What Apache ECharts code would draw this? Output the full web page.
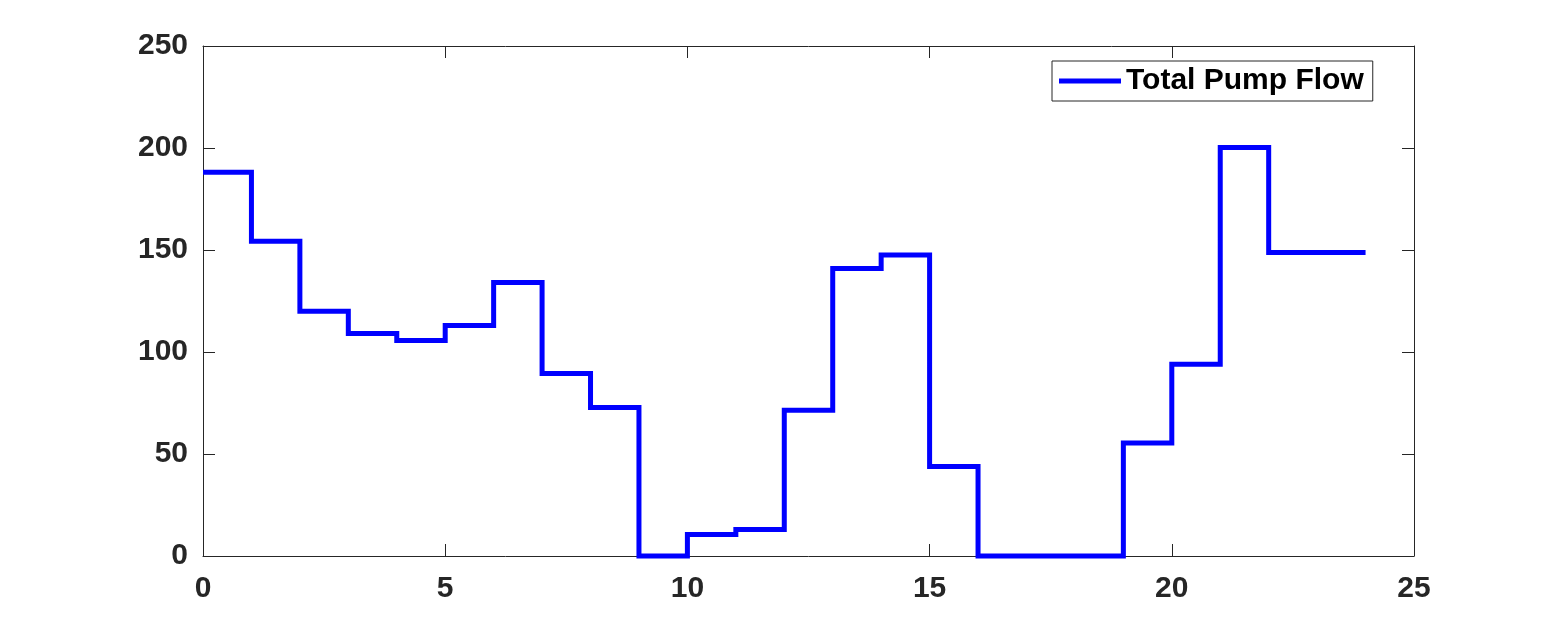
<!DOCTYPE html>
<html>
<head>
<meta charset="utf-8">
<script src="https://cdn.jsdelivr.net/npm/echarts@6/dist/echarts.min.js"></script>
<style>
html,body{margin:0;padding:0;background:#fff;}
#chart{width:1563px;height:625px;}
</style>
</head>
<body>
<div id="chart"></div>
<script>
const hours = [0,1,2,3,4,5,6,7,8,9,10,11,12,13,14,15,16,17,18,19,20,21,22,23,24];
const totalPumpFlow = [188.1,154.3,120.0,109.1,105.6,113.0,134.1,89.4,72.8,0,10.6,13.0,71.4,140.9,147.6,43.9,0,0,0,55.4,94.0,200.2,148.8,148.8,148.8];
const xTicks = {min:0, max:25, interval:5};
const yTicks = {min:0, max:250, interval:50};
const seriesName = 'Total Pump Flow';

const axisColor = '#262626';
const fontFamily = '"Liberation Sans", Arial, sans-serif';
const lineStyle = {color: axisColor, width: 1};

const chart = echarts.init(document.getElementById('chart'), null, {renderer:'canvas'});
const data = hours.map((h,i)=>[h,totalPumpFlow[i]]);

chart.setOption({
  animation:false,
  backgroundColor:'#ffffff',
  grid:{left:203, right:149, top:46, bottom:69, containLabel:false},
  legend:{
    data:[{name:seriesName, icon:'rect'}],
    left:1052, top:61,
    padding:[5,9,5,7],
    itemWidth:62, itemHeight:5, itemGap:0,
    borderColor:axisColor, borderWidth:1, borderRadius:0,
    backgroundColor:'#ffffff',
    textStyle:{fontSize:30, fontWeight:'bold', color:'#000', fontFamily:fontFamily, padding:[0,0,0,0]}
  },
  xAxis:[
    {type:'value', position:'bottom', min:xTicks.min, max:xTicks.max, interval:xTicks.interval,
     axisLine:{show:true, onZero:false, lineStyle}, axisTick:{show:true, inside:true, length:12, lineStyle},
     axisLabel:{show:true, margin:18, fontSize:30, fontWeight:'bold', color:axisColor, fontFamily:fontFamily},
     splitLine:{show:false}},
    {type:'value', position:'top', min:xTicks.min, max:xTicks.max, interval:xTicks.interval,
     axisLine:{show:true, onZero:false, lineStyle}, axisTick:{show:true, inside:true, length:12, lineStyle},
     axisLabel:{show:false}, splitLine:{show:false}}
  ],
  yAxis:[
    {type:'value', position:'left', min:yTicks.min, max:yTicks.max, interval:yTicks.interval,
     axisLine:{show:true, onZero:false, lineStyle}, axisTick:{show:true, inside:true, length:12, lineStyle},
     axisLabel:{show:true, margin:15, fontSize:30, fontWeight:'bold', color:axisColor, fontFamily:fontFamily},
     splitLine:{show:false}},
    {type:'value', position:'right', min:yTicks.min, max:yTicks.max, interval:yTicks.interval,
     axisLine:{show:true, onZero:false, lineStyle}, axisTick:{show:true, inside:true, length:12, lineStyle},
     axisLabel:{show:false}, splitLine:{show:false}}
  ],
  series:[{
    name:seriesName, type:'line', step:'end', data:data,
    xAxisIndex:0, yAxisIndex:0,
    showSymbol:false, symbol:'none', clip:false,
    lineStyle:{color:'#0000ff', width:5, join:'miter', cap:'butt'},
    itemStyle:{color:'#0000ff'}
  }]
});
</script>
</body>
</html>
